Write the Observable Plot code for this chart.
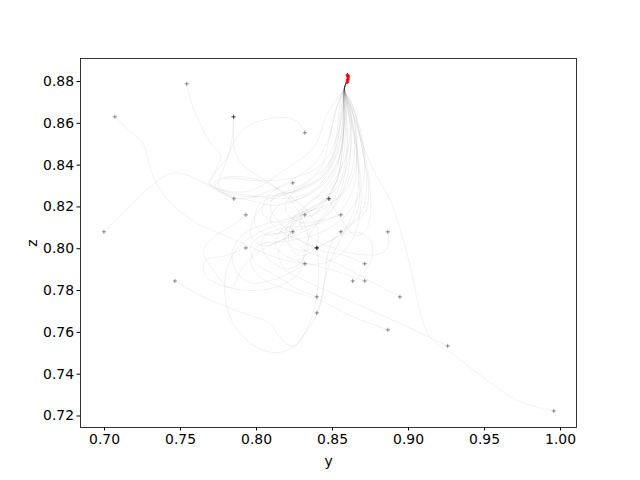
<!DOCTYPE html>
<html>
<head>
<meta charset="utf-8">
<script src="https://cdn.jsdelivr.net/npm/d3@7"></script>
<script src="https://cdn.jsdelivr.net/npm/@observablehq/plot@0.6"></script>
<style>
  html, body { margin: 0; padding: 0; background: white; }
</style>
</head>
<body>
<div id="chart"></div>
<script>
// Tick values
const xTicks = [0.70, 0.75, 0.80, 0.85, 0.90, 0.95, 1.00];
const zTicks = [0.72, 0.74, 0.76, 0.78, 0.80, 0.82, 0.84, 0.86, 0.88];

// Shared approach to the end point
const tail = [[0.8578, 0.8768], [0.8596, 0.8800]];

// Final (red) points
const redY = [0.8597, 0.8599, 0.8601, 0.8603, 0.8602, 0.8600, 0.8598];
const redZ = [0.8796, 0.8803, 0.8810, 0.8817, 0.8823, 0.8828, 0.8832];

// Trajectories [y, z]
const t01 = [[0.9956,0.7224],[0.9717,0.7274],[0.9520,0.7369],[0.9322,0.7479],[0.9145,0.7575],[0.9079,0.7690],[0.9013,0.7910],[0.8947,0.8087],[0.8882,0.8231],[0.8770,0.8374],[0.8684,0.8532],[0.8638,0.8676]];
const t02 = [[0.9258,0.7535],[0.8947,0.7642],[0.8651,0.7738],[0.8388,0.7824],[0.8191,0.7896],[0.8059,0.7967],[0.8039,0.8049],[0.8158,0.8097],[0.8355,0.8111],[0.8520,0.8159],[0.8632,0.8278],[0.8658,0.8470],[0.8632,0.8661]];
const t03 = [[0.8864,0.7612],[0.8618,0.7680],[0.8421,0.7752],[0.8224,0.7800],[0.8039,0.7857],[0.7961,0.7934],[0.8013,0.8015],[0.8224,0.8039],[0.8421,0.8078],[0.8586,0.8159],[0.8697,0.8302],[0.8697,0.8518],[0.8632,0.8685]];
const t04 = [[0.8943,0.7770],[0.8717,0.7857],[0.8487,0.7944],[0.8322,0.7991],[0.8224,0.8063],[0.8289,0.8159],[0.8454,0.8207],[0.8586,0.8278],[0.8658,0.8422],[0.8645,0.8613]];
const t05 = [[0.8712,0.7846],[0.8553,0.7886],[0.8388,0.7920],[0.8224,0.7953],[0.8125,0.8015],[0.8191,0.8111],[0.8355,0.8159],[0.8520,0.8231],[0.8618,0.8350],[0.8645,0.8542]];
const t06 = [[0.8633,0.7846],[0.8717,0.7896],[0.8763,0.7967],[0.8750,0.8039],[0.8671,0.8078],[0.8553,0.8063],[0.8421,0.8015],[0.8289,0.7991],[0.8191,0.8039],[0.8224,0.8135],[0.8388,0.8207],[0.8539,0.8302],[0.8618,0.8470],[0.8618,0.8661]];
const t07 = [[0.8712,0.7928],[0.8586,0.7967],[0.8421,0.7991],[0.8289,0.8039],[0.8171,0.8111],[0.8092,0.8192],[0.8125,0.8255],[0.8289,0.8278],[0.8440,0.8350],[0.8520,0.8470],[0.8550,0.8640]];
const t08 = [[0.8864,0.8081],[0.8868,0.8015],[0.8816,0.7977],[0.8684,0.7972],[0.8520,0.8001],[0.8388,0.8039],[0.8289,0.8111],[0.8322,0.8207],[0.8454,0.8278],[0.8566,0.8398],[0.8618,0.8566]];
const t09 = [[0.8555,0.8081],[0.8618,0.8111],[0.8717,0.8183],[0.8737,0.8302],[0.8697,0.8470],[0.8651,0.8637]];
const t10 = [[0.8555,0.8162],[0.8421,0.8135],[0.8289,0.8125],[0.8191,0.8183],[0.8224,0.8255],[0.8355,0.8326],[0.8487,0.8422],[0.8530,0.8566],[0.8550,0.8700]];
const t11 = [[0.8476,0.8239],[0.8520,0.8183],[0.8586,0.8111],[0.8651,0.8063],[0.8717,0.8087],[0.8750,0.8183],[0.8737,0.8350],[0.8684,0.8542]];
const t12 = [[0.8476,0.8239],[0.8388,0.8207],[0.8257,0.8159],[0.8125,0.8125],[0.8039,0.8173],[0.8079,0.8255],[0.8224,0.8326],[0.8370,0.8398],[0.8470,0.8518],[0.8520,0.8661]];
const t13 = [[0.8318,0.8162],[0.8224,0.8111],[0.8092,0.8063],[0.7993,0.8111],[0.8013,0.8207],[0.8125,0.8255],[0.8289,0.8302],[0.8420,0.8384],[0.8480,0.8530],[0.8530,0.8680]];
const t14 = [[0.8239,0.8081],[0.8158,0.8039],[0.8039,0.8015],[0.7961,0.8063],[0.7993,0.8159],[0.8092,0.8231],[0.8257,0.8278],[0.8421,0.8336],[0.8526,0.8446],[0.8566,0.8613]];
const t15 = [[0.8239,0.8315],[0.8092,0.8278],[0.7928,0.8240],[0.7796,0.8255],[0.7730,0.8302],[0.7796,0.8336],[0.7993,0.8326],[0.8224,0.8336],[0.8421,0.8398],[0.8520,0.8518],[0.8566,0.8661]];
const t16 = [[0.8318,0.8555],[0.8276,0.8604],[0.8191,0.8628],[0.8059,0.8618],[0.7928,0.8580],[0.7849,0.8508],[0.7803,0.8432],[0.7730,0.8365],[0.7697,0.8302],[0.7796,0.8264],[0.7993,0.8250],[0.8224,0.8269],[0.8421,0.8350],[0.8526,0.8494]];
const t17 = [[0.7849,0.8631],[0.7849,0.8566],[0.7855,0.8479],[0.7895,0.8412],[0.7974,0.8365],[0.8079,0.8317],[0.8224,0.8250],[0.8342,0.8173],[0.8408,0.8078],[0.8368,0.7991],[0.8276,0.7967],[0.8211,0.8039],[0.8257,0.8159],[0.8408,0.8255],[0.8520,0.8374],[0.8572,0.8566]];
const t18 = [[0.7849,0.8631],[0.7842,0.8542],[0.7816,0.8446],[0.7776,0.8374],[0.7750,0.8302],[0.7816,0.8255],[0.7961,0.8231],[0.8125,0.8207],[0.8257,0.8231],[0.8421,0.8302],[0.8533,0.8422],[0.8579,0.8613]];
const t19 = [[0.7541,0.8789],[0.7566,0.8709],[0.7618,0.8613],[0.7697,0.8508],[0.7763,0.8446],[0.7730,0.8374],[0.7684,0.8312],[0.7776,0.8278],[0.7961,0.8255],[0.8191,0.8240],[0.8388,0.8288],[0.8507,0.8422],[0.8566,0.8589]];
const t20 = [[0.7068,0.8631],[0.7158,0.8566],[0.7250,0.8508],[0.7289,0.8422],[0.7322,0.8341],[0.7382,0.8264],[0.7487,0.8183],[0.7599,0.8125],[0.7711,0.8087],[0.7842,0.8049],[0.8039,0.7982],[0.8257,0.7934],[0.8454,0.7934],[0.8605,0.8015],[0.8684,0.8183],[0.8671,0.8422],[0.8618,0.8637]];
const t21 = [[0.6996,0.8081],[0.7158,0.8197],[0.7303,0.8298],[0.7434,0.8360],[0.7533,0.8355],[0.7664,0.8312],[0.7796,0.8278],[0.7961,0.8278],[0.8178,0.8374],[0.8375,0.8484],[0.8467,0.8647]];
const t22 = [[0.7851,0.8239],[0.7776,0.8269],[0.7711,0.8302],[0.7763,0.8336],[0.7895,0.8345],[0.8059,0.8317],[0.8191,0.8255],[0.8289,0.8159],[0.8342,0.8039],[0.8289,0.7934],[0.8191,0.7905],[0.8145,0.7982],[0.8237,0.8087],[0.8408,0.8183],[0.8526,0.8326],[0.8572,0.8542]];
const t23 = [[0.7930,0.8162],[0.7842,0.8111],[0.7730,0.8063],[0.7651,0.7991],[0.7717,0.7896],[0.7829,0.7814],[0.7908,0.7910],[0.8007,0.7982],[0.8158,0.8039],[0.8355,0.8097],[0.8520,0.8207],[0.8605,0.8374],[0.8618,0.8566]];
const t24 = [[0.7930,0.8004],[0.7796,0.7967],[0.7664,0.7944],[0.7664,0.7872],[0.7776,0.7824],[0.7961,0.7800],[0.8158,0.7824],[0.8289,0.7896],[0.8322,0.8015],[0.8388,0.8111],[0.8507,0.8231],[0.8586,0.8422],[0.8592,0.8637]];
const t25 = [[0.8397,0.8004],[0.8408,0.7920],[0.8401,0.7800],[0.8355,0.7656],[0.8257,0.7537],[0.8138,0.7503],[0.8007,0.7527],[0.7875,0.7609],[0.7803,0.7728],[0.7796,0.7872],[0.7862,0.7991],[0.8013,0.8078],[0.8224,0.8135],[0.8408,0.8207],[0.8526,0.8326],[0.8572,0.8542]];
const t26 = [[0.8397,0.8004],[0.8487,0.8039],[0.8605,0.8097],[0.8671,0.8207],[0.8671,0.8374],[0.8632,0.8566]];
const t27 = [[0.8397,0.8004],[0.8289,0.8039],[0.8171,0.8078],[0.8092,0.8135],[0.8145,0.8207],[0.8289,0.8240],[0.8434,0.8302],[0.8539,0.8422],[0.8579,0.8613]];
const t28 = [[0.8318,0.7928],[0.8224,0.7886],[0.8092,0.7848],[0.7961,0.7838],[0.7862,0.7896],[0.7842,0.7991],[0.7928,0.8078],[0.8092,0.8125],[0.8289,0.8159],[0.8454,0.8231],[0.8553,0.8374],[0.8586,0.8589]];
const t29 = [[0.8397,0.7770],[0.8289,0.7800],[0.8125,0.7872],[0.7993,0.7934],[0.7961,0.8015],[0.8039,0.8063],[0.8191,0.8078],[0.8355,0.8111],[0.8487,0.8183],[0.8572,0.8326],[0.8599,0.8542]];
const t30 = [[0.8397,0.7693],[0.8434,0.7776],[0.8454,0.7896],[0.8474,0.7991],[0.8520,0.8063],[0.8605,0.8111],[0.8697,0.8183],[0.8724,0.8326],[0.8684,0.8518],[0.8618,0.8685]];
const t31 = [[0.7463,0.7846],[0.7632,0.7776],[0.7816,0.7719],[0.7961,0.7680],[0.8079,0.7647],[0.8158,0.7575],[0.8237,0.7532],[0.8322,0.7599],[0.8408,0.7704],[0.8441,0.7824],[0.8487,0.7944],[0.8566,0.8063],[0.8651,0.8207],[0.8671,0.8398],[0.8632,0.8613]];

const trajectories = [t01,t02,t03,t04,t05,t06,t07,t08,t09,t10,t11,t12,t13,t14,t15,t16,t17,t18,t19,t20,t21,t22,t23,t24,t25,t26,t27,t28,t29,t30,t31];

const rows = trajectories.flatMap((t, i) => [...t, ...tail].map(([y, z]) => ({id: i, y, z})));
const starts = trajectories.map((t) => ({y: t[0][0], z: t[0][1]}));
const reds = redY.map((y, i) => ({y, z: redZ[i]}));

const chart = Plot.plot({
  width: 640,
  height: 480,
  marginLeft: 80,
  marginRight: 64,
  marginTop: 58,
  marginBottom: 53,
  style: {fontFamily: "DejaVu Sans, sans-serif", fontSize: "13.9px", background: "white", color: "black"},
  x: {domain: [0.6842, 1.0105]},
  y: {domain: [0.7145, 0.891]},
  marks: [
    Plot.line(rows, {x: "y", y: "z", z: "id", curve: "catmull-rom", stroke: "black", strokeOpacity: 0.07, strokeWidth: 0.8}),
    Plot.dot(starts, {x: "y", y: "z", symbol: "plus", r: 1.5, stroke: "black", strokeOpacity: 0.4, strokeWidth: 1}),
    Plot.line(reds, {x: "y", y: "z", stroke: "red", strokeWidth: 2}),
    Plot.dot(reds, {x: "y", y: "z", symbol: "plus", r: 1.3, stroke: "red", strokeWidth: 1}),
    Plot.frame({stroke: "black", strokeWidth: 0.8}),
    Plot.axisX({ticks: xTicks, tickFormat: d3.format(".2f"), tickSize: 3.5, tickPadding: 3, label: "y", labelAnchor: "center", labelArrow: "none", labelOffset: 38}),
    Plot.axisY({ticks: zTicks, tickFormat: d3.format(".2f"), tickSize: 3.5, tickPadding: 3, label: "z", labelAnchor: "center", labelArrow: "none", labelOffset: 53})
  ]
});
document.getElementById("chart").appendChild(chart);
</script>
</body>
</html>
